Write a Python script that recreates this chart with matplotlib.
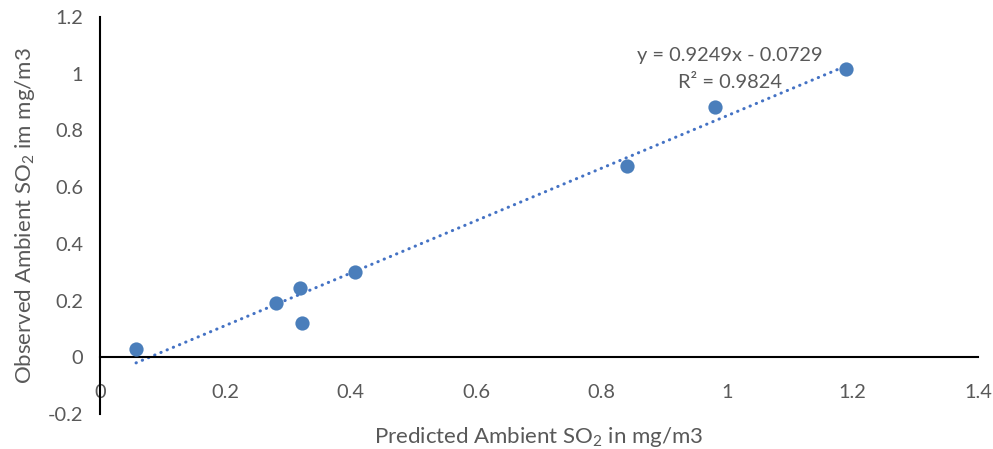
import matplotlib
matplotlib.use('Agg')
import matplotlib.pyplot as plt
import numpy as np

plt.rcParams['font.family'] = ['Lato', 'DejaVu Sans']
plt.rcParams['mathtext.fontset'] = 'custom'
plt.rcParams['mathtext.rm'] = 'Lato'
plt.rcParams['mathtext.it'] = 'Lato'

# Data
predicted = [0.0575, 0.281, 0.319, 0.322, 0.407, 0.841, 0.980, 1.189]
observed = [0.028, 0.190, 0.243, 0.120, 0.300, 0.674, 0.882, 1.016]
slope = 0.9249
intercept = -0.0729
r2 = 0.9824

x_ticks = [0, 0.2, 0.4, 0.6, 0.8, 1, 1.2, 1.4]
y_ticks = [-0.2, 0, 0.2, 0.4, 0.6, 0.8, 1, 1.2]

grey = '#595959'
blue = '#4a7ebb'
trend_color = '#4472c4'
fs = 14.4
label_fs = 16

fig = plt.figure(figsize=(9.93, 4.49), dpi=100)
ax = fig.add_axes([100/993, 35/449, 878/993, 397/449])

ax.scatter(predicted, observed, s=105, color=blue, zorder=3, linewidths=0)

# Linear trendline
xs = np.array([min(predicted), max(predicted)])
ax.plot(xs, slope * xs + intercept, color=trend_color, linewidth=2.2,
        linestyle=(0, (0.1, 2.1)), dash_capstyle='round', zorder=2)

ax.text(0.7175, 0.869, f'y = {slope}x - {abs(intercept)}\nR² = {r2}',
        transform=ax.transAxes, ha='center', va='center', fontsize=fs,
        color=grey, linespacing=1.7, multialignment='center')

ax.set_xlim(0, 1.4)
ax.set_ylim(-0.2, 1.2)
ax.set_xticks(x_ticks)
ax.set_yticks(y_ticks)
ax.set_xticklabels([f'{v:g}' for v in x_ticks])
ax.set_yticklabels([f'{v:g}' for v in y_ticks])

# Excel style axes crossing at zero
ax.spines['top'].set_visible(False)
ax.spines['right'].set_visible(False)
ax.spines['bottom'].set_position(('data', 0))
ax.spines['bottom'].set_linewidth(1.5)
ax.spines['left'].set_linewidth(1.5)
ax.tick_params(axis='both', length=0, labelsize=fs, labelcolor=grey)
ax.tick_params(axis='x', pad=19)
ax.tick_params(axis='y', pad=12)

ax.set_xlabel('Predicted Ambient SO$_\\mathregular{2}$ in mg/m3', fontsize=label_fs,
              color=grey, va='center')
ax.xaxis.set_label_coords(0.5, -0.058)
ax.set_ylabel('Observed Ambient SO$_\\mathregular{2}$ im mg/m3', fontsize=label_fs,
              color=grey, va='center')
ax.yaxis.set_label_coords(-0.0854, 0.5)

fig.savefig('out.png', dpi=100)
